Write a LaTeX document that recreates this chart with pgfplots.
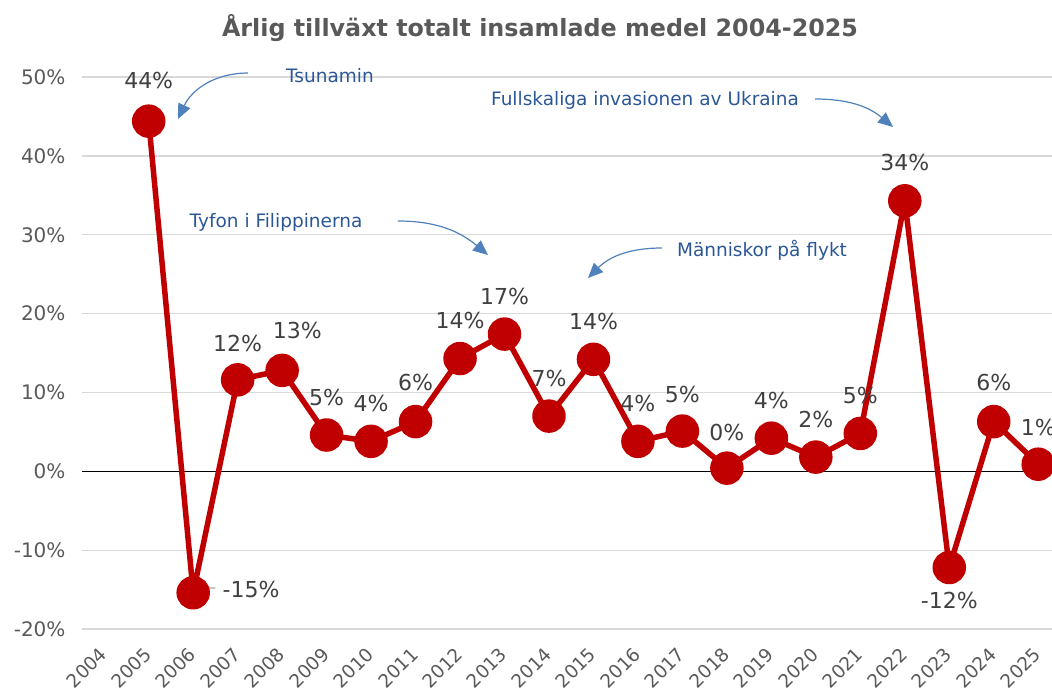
\documentclass[border=0pt]{standalone}
\usepackage{fontspec}
\setmainfont{DejaVu Sans}
\usepackage{pgfplots}
\pgfplotsset{compat=1.18}
\usetikzlibrary{arrows.meta}
\definecolor{red0}{HTML}{C00000}
\definecolor{gridgray}{HTML}{D9D9D9}
\definecolor{ticktext}{HTML}{595959}
\definecolor{labtext}{HTML}{404040}
\definecolor{anntext}{HTML}{2B5797}
\definecolor{arrowblue}{HTML}{4F81BD}
\begin{document}
\begin{tikzpicture}
\useasboundingbox (0,0) rectangle (1052pt,-691pt);
\begin{axis}[
  at={(82pt,-629pt)}, anchor=south west,
  scale only axis, width=970pt, height=552pt,
  xmin=-0.5, xmax=21.31, ymin=-20, ymax=50,
  axis line style={draw=none},
  major tick length=0pt,
  ytick={-20,-10,0,10,20,30,40,50},
  yticklabels={-20\%,-10\%,0\%,10\%,20\%,30\%,40\%,50\%},
  ymajorgrids, grid style={color=gridgray, line width=1.3pt},
  extra y ticks={0}, extra y tick labels={},
  extra y tick style={grid style={black, line width=1.5pt}},
  xtick={0,...,21},
  xticklabels={2004,2005,2006,2007,2008,2009,2010,2011,2012,2013,2014,2015,2016,2017,2018,2019,2020,2021,2022,2023,2024,2025},
  yticklabel style={font=\fontsize{20}{24}\selectfont, text=ticktext, xshift=-13pt},
  xticklabel style={font=\fontsize{18.5}{22}\selectfont, text=ticktext, rotate=45, anchor=north east, xshift=-12.8pt, yshift=-4.4pt},
  clip=false,
]
\addplot[color=red0, line width=5.5pt, line join=round, mark=*, mark size=14pt,
  mark options={fill=red0, draw=none}] coordinates {
  (1,44.4) (2,-15.4) (3,11.6) (4,12.8) (5,4.6) (6,3.8) (7,6.3) (8,14.3)
  (9,17.4) (10,7.0) (11,14.2) (12,3.8) (13,5.1) (14,0.4) (15,4.2) (16,1.8)
  (17,4.8) (18,34.3) (19,-12.2) (20,6.3) (21,0.9)};
\draw[color=gray!70, line width=1.2pt] (axis cs:2.0,-15.6) .. controls (axis cs:2.25,-14.8) .. (axis cs:2.5,-14.8);
\begin{scope}[every node/.style={font=\fontsize{22}{26}\selectfont, text=labtext}]
\node at (axis cs:1,49.6) {44\%};
\node at (axis cs:3.3,-15.0) {-15\%};
\node at (axis cs:3,16.2) {12\%};
\node at (axis cs:4.34,17.9) {13\%};
\node at (axis cs:5,9.4) {5\%};
\node at (axis cs:6,8.6) {4\%};
\node at (axis cs:7,11.2) {6\%};
\node at (axis cs:8,19.1) {14\%};
\node at (axis cs:9,22.2) {17\%};
\node at (axis cs:10,11.8) {7\%};
\node at (axis cs:11,19.0) {14\%};
\node at (axis cs:12,8.6) {4\%};
\node at (axis cs:13,9.8) {5\%};
\node at (axis cs:14,4.9) {0\%};
\node at (axis cs:15,9.0) {4\%};
\node at (axis cs:16,6.6) {2\%};
\node at (axis cs:17,9.6) {5\%};
\node at (axis cs:18,39.2) {34\%};
\node at (axis cs:19,-16.4) {-12\%};
\node at (axis cs:20,11.2) {6\%};
\node at (axis cs:21,5.6) {1\%};
\end{scope}
\end{axis}
\node[font=\bfseries\fontsize{23.8}{28}\selectfont, text=ticktext] at (540pt,-28pt) {Årlig tillväxt totalt insamlade medel 2004-2025};
\begin{scope}[every node/.style={font=\fontsize{18.5}{22}\selectfont, text=anntext}]
\node at (330pt,-76pt) {Tsunamin};
\node at (645pt,-100pt) {Fullskaliga invasionen av Ukraina};
\node at (276pt,-222pt) {Tyfon i Filippinerna};
\node at (762pt,-250pt) {Människor på flykt};
\end{scope}
\begin{scope}[arrowblue, line width=1.2pt, -{Triangle[length=15pt,width=13pt]}]
\draw (248pt,-73pt) to[out=180,in=65] (178pt,-119pt);
\draw (815pt,-99pt) to[out=0,in=140] (893pt,-127pt);
\draw (398pt,-221pt) to[out=0,in=140] (488pt,-255pt);
\draw (662pt,-248pt) to[out=180,in=45] (588pt,-278pt);
\end{scope}
\end{tikzpicture}
\end{document}
